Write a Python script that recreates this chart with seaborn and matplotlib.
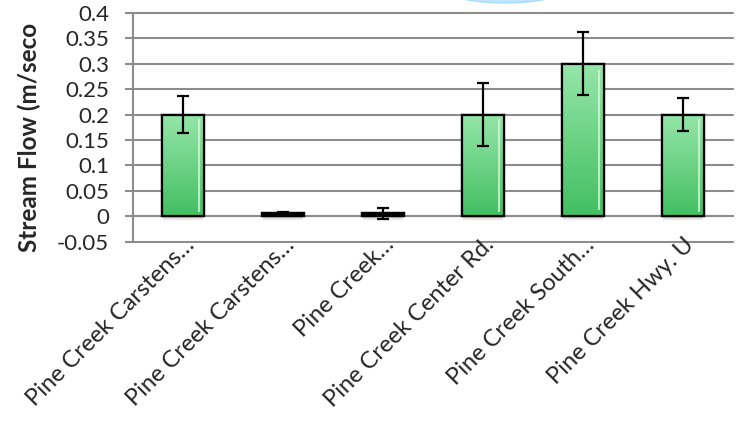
import numpy as np
import matplotlib
matplotlib.use("Agg")
import matplotlib.pyplot as plt
import matplotlib.transforms as mtransforms
from matplotlib.patches import Ellipse, Rectangle
import seaborn as sns
import pandas as pd

sites = ["Pine Creek Carstens…", "Pine Creek Carstens…", "Pine Creek…",
         "Pine Creek Center Rd.", "Pine Creek South…", "Pine Creek Hwy. U"]
flow = [0.2, 0.006, 0.006, 0.2, 0.3, 0.2]
err = [0.037, 0.002, 0.011, 0.062, 0.062, 0.032]
yticks = [-0.05, 0, 0.05, 0.1, 0.15, 0.2, 0.25, 0.3, 0.35, 0.4]
ytick_labels = ["-0.05", "0", "0.05", "0.1", "0.15", "0.2", "0.25", "0.3", "0.35", "0.4"]

sns.set_style("white")
plt.rcParams["font.family"] = ["Lato", "DejaVu Sans"]

grey = "#8c8c8c"

df = pd.DataFrame({"site": [f"{i}" for i in range(len(sites))], "flow": flow})

fig = plt.figure(figsize=(7.38, 4.28), dpi=100)
ax = fig.add_axes([0.180, 0.435, 0.813, 0.535])

sns.barplot(data=df, x="site", y="flow", color="#6fd488", edgecolor="black",
            linewidth=1.6, width=0.42, ax=ax, zorder=3)

# gradient fill inside each bar
grad = np.linspace(0, 1, 100).reshape(-1, 1)
cmap = matplotlib.colors.LinearSegmentedColormap.from_list("g", ["#43bf62", "#95e6a8"])
bars = list(ax.patches)
for p in bars:
    x0, y0 = p.get_x(), p.get_y()
    w, h = p.get_width(), p.get_height()
    # soft shadow under the bar
    for k, a in enumerate([0.10, 0.08, 0.06, 0.04]):
        ax.add_patch(Rectangle((x0 + 0.01, y0 - 0.0025 * (k + 1)), w - 0.02, 0.0025 * (k + 1),
                               facecolor="#555555", alpha=a, lw=0, zorder=2.9))
    if h < 0.02:
        # very short bars are only the black outline
        ax.add_patch(Rectangle((x0, y0), w, h, facecolor="black", edgecolor="black",
                               lw=1.6, zorder=3.3))
        continue
    im = ax.imshow(grad, extent=[x0, x0 + w, y0, y0 + h], origin="lower",
                   cmap=cmap, aspect="auto", zorder=3.1)
    im.set_clip_path(p)
    # highlight stripe near the right edge
    ax.fill_between([x0 + w * 0.86, x0 + w * 0.92], y0 + h * 0.04, y0 + h * 0.96,
                    color="#d4f7dc", alpha=0.8, zorder=3.2, lw=0)
    ax.add_patch(Rectangle((x0, y0), w, h, fill=False, edgecolor="black",
                           lw=1.6, zorder=3.3))

ax.errorbar(range(len(sites)), flow, yerr=err, fmt="none", ecolor="black",
            elinewidth=1.6, capsize=4.5, capthick=1.6, zorder=4)

ax.set_xlim(-0.5, len(sites) - 0.5)
ax.set_ylim(-0.05, 0.4)
ax.set_yticks(yticks)
ax.set_yticklabels(ytick_labels)
ax.yaxis.grid(True, color=grey, lw=1.5, zorder=0)
for gl in ax.yaxis.get_gridlines():
    gl.set_clip_on(False)

# category axis crosses at zero, tick marks between categories
ax.spines["bottom"].set_position(("data", 0))
ax.set_xticks(np.arange(len(sites) + 1) - 0.5)
ax.set_xticklabels([])
ax.tick_params(axis="x", direction="out", length=6, width=1.5, color=grey)
ax.tick_params(axis="y", direction="out", length=6, width=1.5, color=grey,
               labelsize=16, pad=11, left=True)
for s in ["top", "right"]:
    ax.spines[s].set_visible(False)
for s in ["bottom", "left"]:
    ax.spines[s].set_color(grey)
    ax.spines[s].set_linewidth(1.5)
ax.set_xlabel("")
ax.set_ylabel("")

trans = mtransforms.blended_transform_factory(ax.transData, ax.transAxes)
offset = mtransforms.ScaledTranslation(9 / 72, -3 / 72, fig.dpi_scale_trans)
for i, lab in enumerate(sites):
    ax.text(i, 0, lab, transform=trans + offset, rotation=45, ha="right", va="baseline",
            rotation_mode="anchor", fontsize=17)

fig.text(0.040, 0.679, "Stream Flow (m/seco", rotation=90, ha="center", va="center",
         fontsize=17.5, fontweight="bold")

# edge of the title box peeking in at the top
fig.patches.append(Ellipse((505 / 738, 1 + 20 / 428), 148 / 738, 46 / 428,
                           transform=fig.transFigure, facecolor="#bfe6fb",
                           edgecolor="#a6dcf8", lw=1))

fig.savefig("out.png", dpi=100)
